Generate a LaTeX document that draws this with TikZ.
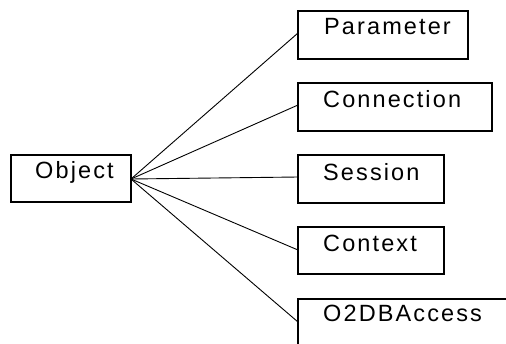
\documentclass[tikz,border=0pt]{standalone}
\usepackage{fontspec}
\setmainfont{Liberation Sans}[LetterSpace=9]
\begin{document}
\begin{tikzpicture}[x=1pt,y=-1pt,
  box/.style={draw=black,line width=1.5pt,fill=white},
  lbl/.style={anchor=base west,inner sep=0pt,font=\fontsize{23.5}{27}\selectfont},
  link/.style={draw=black,line width=0.9pt}]
\useasboundingbox (0,0) rectangle (506,343);
% root box
\draw[box] (11,155) rectangle (131,202);
\node[lbl] (object) at (35,178) {Object};
\coordinate (hub) at (131,179);
% child boxes
\draw[box] (298,11) rectangle (468,59);
\node[lbl] (param) at (324,34) {Parameter};
\draw[box] (298,83) rectangle (492,131);
\node[lbl] (conn) at (323,107) {Connection};
\draw[box] (298,155) rectangle (444,203);
\node[lbl] (sess) at (323,180) {Session};
\draw[box] (298,227) rectangle (444,274);
\node[lbl] (ctx) at (323,251) {Context};
\draw[box] (298,299) rectangle (520,360);
\node[lbl] (o2db) at (323,321) {O2DBAccess};
% attachment points on the left edges
\coordinate (pP) at (298,33);
\coordinate (pC) at (298,105);
\coordinate (pS) at (298,177);
\coordinate (pX) at (298,250);
\coordinate (pO) at (298,322);
\foreach \t in {pP,pC,pS,pX,pO}
  \draw[link] (hub) -- (\t);
\end{tikzpicture}
\end{document}
